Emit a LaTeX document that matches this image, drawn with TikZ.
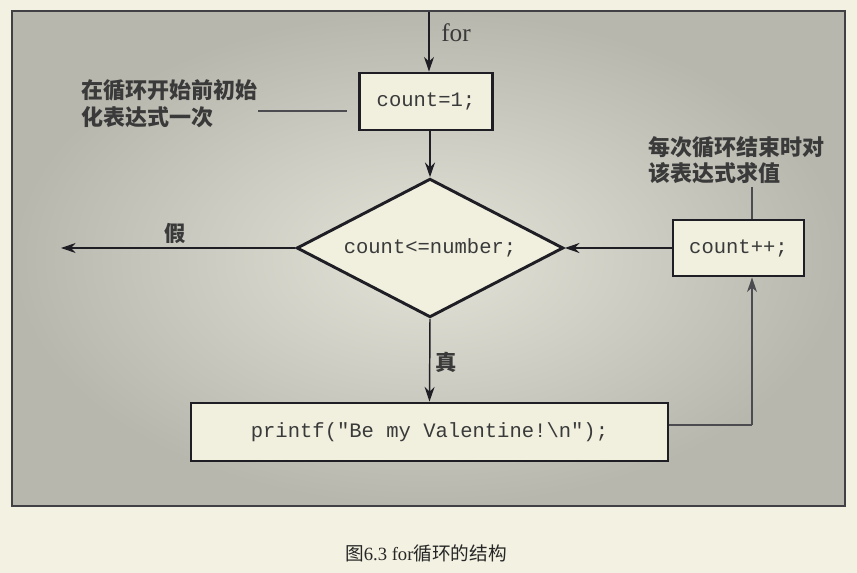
\documentclass[tikz,border=0pt]{standalone}
\usepackage{fontspec}
\setmainfont{Liberation Serif}
\setmonofont{Liberation Mono}
\newfontfamily\cjk{Noto Sans CJK SC}
\usetikzlibrary{shapes.geometric,arrows.meta}
\definecolor{pagebg}{HTML}{F3F1E1}
\definecolor{framein}{HTML}{E4E3D8}
\definecolor{frameout}{HTML}{B8B7AE}
\definecolor{boxfill}{HTML}{F1F0DF}
\definecolor{ink}{HTML}{1E1E24}
\definecolor{txt}{HTML}{3A3A3A}
\tikzset{
  stepbox/.style={draw=ink, line width=2.2pt, fill=boxfill, rectangle, inner sep=0pt,
    font=\ttfamily\fontsize{15.4}{18}\selectfont, text=txt},
  testbox/.style={draw=ink, line width=2.2pt, fill=boxfill, diamond, aspect=2, inner sep=0pt,
    minimum width=200pt, minimum height=104pt,
    font=\ttfamily\fontsize{15.4}{18}\selectfont, text=txt},
  arr/.style={draw=ink, line width=1.1pt, -{Stealth[length=11pt,width=7.5pt]}},
  plainline/.style={draw=ink!80, line width=1.1pt},
  note/.style={font=\cjk\bfseries\fontsize{16.5}{20}\selectfont, text=txt, align=left, inner sep=0pt},
  lbl/.style={font=\cjk\bfseries\fontsize{16}{18}\selectfont, text=txt, inner sep=0pt}
}
\begin{document}
\begin{tikzpicture}[x=0.75pt,y=-0.75pt]
\useasboundingbox (0,0) rectangle (857,573);
\fill[pagebg] (0,0) rectangle (857,573);
\shade[inner color=framein, outer color=frameout] (12,11) rectangle (845,506);
\draw[ink!85, line width=2.2pt] (12,11) rectangle (845,506);

\node[stepbox, minimum width=99.75pt, minimum height=42.75pt] (init) at (426,101.5) {count=1;};
\node[testbox] (test) at (430,248) {count<=number;};
\node[stepbox, minimum width=98.25pt, minimum height=42pt] (upd) at (738.5,248) {count++;};
\node[stepbox, minimum width=357.75pt, minimum height=43.5pt] (body) at (429.5,432) {printf("Be my Valentine!\textbackslash n");};

\coordinate (start) at (429,12);
\coordinate (exit) at (61,248);
\coordinate (loopa) at (752,425);

\draw[arr] (start) -- (start |- init.north);
\node[font=\fontsize{19}{22}\selectfont, text=txt, anchor=west, inner sep=0pt] (forlbl) at (441,33) {for};
\draw[arr] (init.south -| test.north) -- (test.north);
\draw[arr] (test.south) -- (body.north);
\node[lbl] (truelbl) at (446,362) {真};
\draw[arr] (upd.west) -- (test.east);
\draw[arr] (test.west) -- (exit);
\node[lbl] (falselbl) at (175,233) {假};
\draw[plainline] (body.east |- loopa) -- (loopa);
\draw[arr, draw=ink!80] (loopa) -- (loopa |- upd.south);

\node[note] (note1) at (169,104) {在循环开始前初始\\化表达式一次};
\coordinate (n1a) at (258,111);
\coordinate (n1b) at (347,111);
\draw[plainline] (n1a) -- (n1b);

\node[note] (note2) at (736,160) {每次循环结束时对\\该表达式求值};
\coordinate (n2a) at (752,187);
\draw[plainline] (n2a) -- (n2a |- upd.north);

\node[font=\fontsize{14}{16}\selectfont, text=black!85, inner sep=0pt] (caption) at (426,553)
  {{\cjk 图}6.3 for{\cjk 循环的结构}};
\end{tikzpicture}
\end{document}
